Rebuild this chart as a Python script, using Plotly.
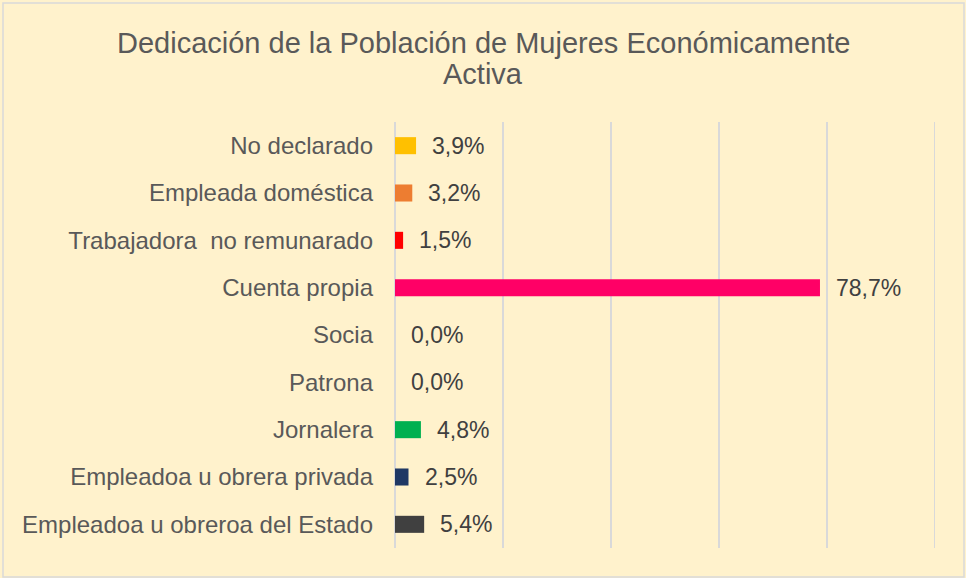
import plotly.graph_objects as go

title_lines = ["Dedicación de la Población de Mujeres Económicamente", "Activa"]
categories = [
    "No declarado",
    "Empleada doméstica",
    "Trabajadora\u00a0 no remunarado",
    "Cuenta propia",
    "Socia",
    "Patrona",
    "Jornalera",
    "Empleadoa u obrera privada",
    "Empleadoa u obreroa del Estado",
]
values = [3.9, 3.2, 1.5, 78.7, 0.0, 0.0, 4.8, 2.5, 5.4]
colors = ["#FFC000", "#ED7D31", "#FF0000", "#FF0066", "#FFFFFF", "#FFFFFF",
          "#00B050", "#1F3864", "#404040"]
labels = [f"{v:.1f}%".replace(".", ",") for v in values]
x_max = 100

W, H = 966, 578
L, R, T, B = 395, 31, 122, 30
FONT = "Liberation Sans, Arial"

fig = go.Figure()
fig.add_trace(go.Bar(
    y=categories, x=values, orientation="h",
    marker=dict(color=colors, line=dict(width=0)),
    width=0.36, hoverinfo="skip",
))

for c, v, t in zip(categories, values, labels):
    fig.add_annotation(x=v, y=c, text=t, showarrow=False, xanchor="left",
                       xshift=14, font=dict(family=FONT, size=23, color="#404040"))

pw = W - L - R
ph = H - T - B
def px_x(p):
    return (p - L) / pw
def px_y(p):
    return (H - B - p) / ph

for line, ypix in zip(title_lines, [43, 74]):
    fig.add_annotation(xref="paper", yref="paper", x=px_x(W / 2), y=px_y(ypix),
                       xanchor="center", yanchor="middle", text=line, showarrow=False,
                       font=dict(family=FONT, size=29, color="#595959"))

fig.add_shape(type="rect", xref="paper", yref="paper",
              x0=px_x(3), x1=px_x(964), y0=px_y(577), y1=px_y(3),
              line=dict(color="#D9D9D9", width=1.5), layer="below")
# outer gridline at the axis maximum (plotly clips gridlines at the edge)
fig.add_shape(type="line", xref="x", yref="paper", x0=x_max, x1=x_max, y0=0, y1=1,
              line=dict(color="#D9D9D9", width=2), layer="below")

fig.update_layout(
    width=W, height=H,
    margin=dict(l=L, r=R, t=T, b=B),
    paper_bgcolor="#FFF2CC", plot_bgcolor="#FFF2CC",
    showlegend=False,
    bargap=0.64,
)
fig.update_xaxes(range=[0, x_max], tick0=0, dtick=20, showticklabels=False, showgrid=True,
                 gridcolor="#D9D9D9", gridwidth=2, zeroline=True, zerolinecolor="#D9D9D9",
                 zerolinewidth=2, showline=False, fixedrange=True)
fig.update_yaxes(autorange="reversed", showgrid=False, ticks="", ticklabelstandoff=21,
                 tickfont=dict(family=FONT, size=24, color="#595959"),
                 showline=False, fixedrange=True)

fig.write_html("out.html", config={"displayModeBar": False},
               post_script="document.body.style.margin='0';")
